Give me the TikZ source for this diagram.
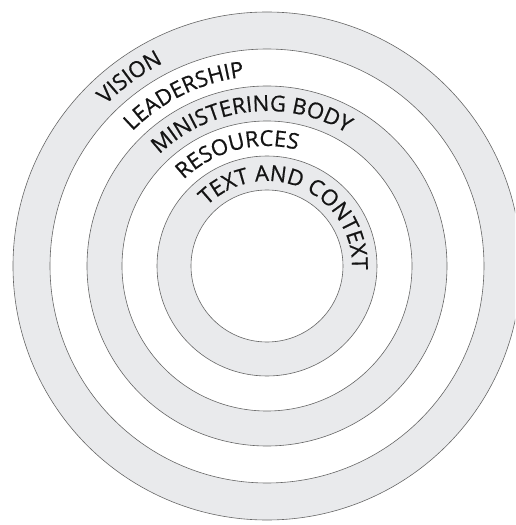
\documentclass[tikz,border=0pt]{standalone}
\usepackage{fontspec}
\setmainfont{Open Sans}
\usepackage{tikz}
\usetikzlibrary{decorations.text}
\definecolor{ringgrey}{HTML}{E9EAEC}
\definecolor{ringline}{HTML}{666666}
\definecolor{labeltext}{HTML}{141414}
\newfontfamily\ringfamily[FakeBold=0.6]{Open Sans}
\newcommand{\ringfont}{\ringfamily\fontsize{22}{22}\selectfont}
\tikzset{
  ringlabel/.style={decorate, decoration={text along path, text align=left,
      text color=labeltext, text={|\ringfont|#1}}}
}

\begin{document}
\begin{tikzpicture}
  \useasboundingbox (-267pt,-259pt) rectangle (248pt,266pt);
  \clip (-267pt,-259pt) rectangle (248pt,266pt);

  % Rings, outermost first
  \foreach \r/\c in {254/ringgrey, 217/white, 180/ringgrey, 145/white, 110/ringgrey, 76/white} {
    \fill[\c] (0,0) circle (\r pt);
  }
  \foreach \r in {254, 217, 180, 145, 110, 76} {
    \draw[ringline, line width=0.6pt] (0,0) circle (\r pt);
  }

  % Labels along the rings
  \path[ringlabel=VISION] (135:228pt) arc[start angle=135, end angle=40, radius=228pt];
  \path[ringlabel=LEADERSHIP] (135:190.5pt) arc[start angle=135, end angle=20, radius=190.5pt];
  \path[ringlabel=MINISTERING BODY] (134:155pt) arc[start angle=134, end angle=0, radius=155pt];
  \path[ringlabel=RESOURCES] (134:120pt) arc[start angle=134, end angle=0, radius=120pt];
  \path[ringlabel=TEXT AND CONTEXT] (135:85pt) arc[start angle=135, end angle=-90, radius=85pt];
\end{tikzpicture}
\end{document}
